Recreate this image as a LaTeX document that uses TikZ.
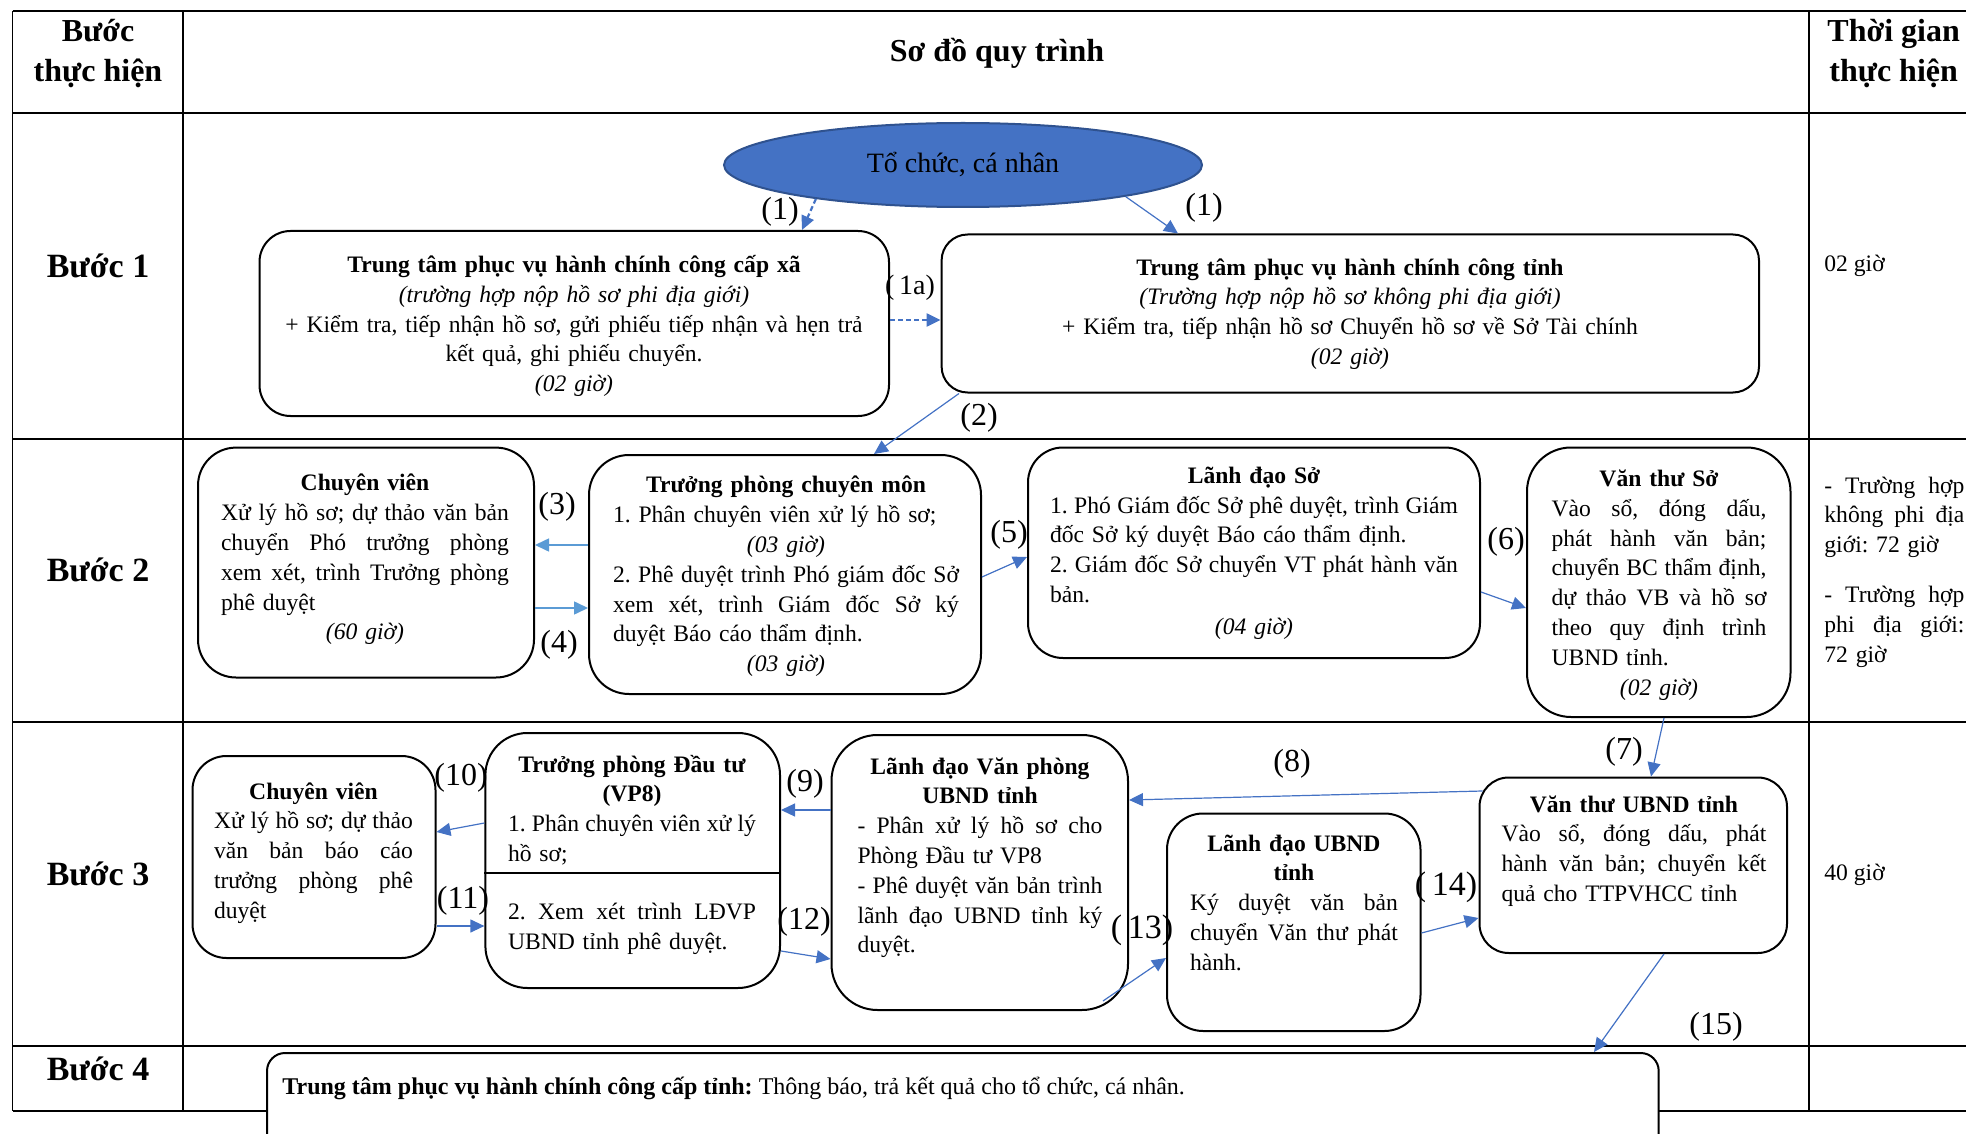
\documentclass[tikz,border=0pt]{standalone}
\usepackage{fontspec}
\setmainfont{Liberation Serif}
\usetikzlibrary{arrows.meta,shapes.geometric,fit}
\definecolor{arrblue}{HTML}{4472C4}
\definecolor{lblue}{HTML}{5B9BD5}
\definecolor{ellfill}{HTML}{4472C4}
\definecolor{elldraw}{HTML}{2F528F}
\frenchspacing
\newcommand\jline[1]{\leavevmode\hbox to \linewidth{\spaceskip=\fontdimen2\font plus 1fil\relax #1}}
\newcommand\lline[1]{\leavevmode\makebox[\linewidth][l]{#1}}
\begin{document}
\begin{tikzpicture}[x=0.5pt,y=-0.5pt,
  box/.style={draw=black, line width=1pt, fill=white, inner sep=0pt},
  txt/.style={inner sep=0pt, align=center, font=\fontsize{11.8}{14.9}\selectfont},
  head/.style={inner sep=0pt, align=center, font=\fontsize{16}{20}\selectfont\bfseries},
  stephead/.style={head, font=\fontsize{17}{20}\selectfont\bfseries},
  lbl/.style={inner sep=0pt, font=\fontsize{16}{18}\selectfont},
  arr/.style={draw=arrblue, line width=0.6pt, -{Triangle[length=7pt,width=6.5pt]}},
  larr/.style={arr, draw=lblue, line width=0.8pt},
  dsh/.style={arr, line width=1.1pt, dash pattern=on 2.5pt off 1.5pt},
  hl/.style={line width=1.2pt}, vl/.style={line width=0.9pt}]
\useasboundingbox (0,0) rectangle (1966,1134);
\clip (0,0) rectangle (1966,1134);

% table
\foreach \yy in {11,113,439,722,1046,1111} \draw[hl] (12.5,\yy) -- (1990,\yy);
\foreach \xx in {12.5,183,1809} \draw[vl] (\xx,11) -- (\xx,1111);

% headers
\node[head] (hStep) at (98,54) {Bước\\thực hiện};
\node[head] (hMap) at (997,53) {Sơ đồ quy trình};
\node[head, anchor=west] (hTime) at (1827,54) {Thời gian\\thực hiện};
\node[stephead] (s1) at (98,266) {Bước 1};
\node[stephead] (s2) at (98,570) {Bước 2};
\node[stephead] (s3) at (98,874) {Bước 3};
\node[stephead] (s4) at (98,1069) {Bước 4};

% time column
\node[txt, anchor=west] (tm1) at (1824,266) {02 giờ};
\node[txt, anchor=west, text width=70pt, align=left] (tm2) at (1824,572)
  {\jline{- Trường hợp}\\\jline{không phi địa}\\giới: 72 giờ\\[10pt]\jline{- Trường hợp}\\\jline{phi địa giới:}\\72 giờ};
\node[txt, anchor=west] (tm3) at (1824,875) {40 giờ};

% ellipse
\node[ellipse, draw=elldraw, fill=ellfill, line width=1pt, minimum width=239pt, minimum height=42pt, inner sep=0pt,
  font=\fontsize{14}{16}\selectfont] (ell) at (963,165) {Tổ chức, cá nhân};

% boxes
\node[box, rounded corners=15.5pt, fit={(259.5,231) (889,416)}] (boxA) {};
\node[box, rounded corners=13pt, fit={(941.6,234.5) (1759,392.5)}] (boxB) {};
\node[box, rounded corners=19pt, fit={(198,447.6) (534,677.5)}] (boxC) {};
\node[box, rounded corners=20pt, fit={(589,455) (981,694)}] (boxD) {};
\node[box, rounded corners=17.5pt, fit={(1028,447.5) (1480,658)}] (boxE) {};
\node[box, rounded corners=22pt, fit={(1527,447.5) (1790.5,717)}] (boxF) {};
\node[box, rounded corners=17pt, fit={(192.5,756) (435.5,958)}] (boxG) {};
\node[box, rounded corners=21pt, fit={(485.4,733) (780,988)}] (boxH) {};
\node[box, rounded corners=23pt, fit={(831.5,735) (1128,1010)}] (boxI) {};
\node[box, rounded corners=18pt, fit={(1167,813.5) (1420.5,1031)}] (boxJ) {};
\node[box, rounded corners=14.6pt, fit={(1479.5,777.5) (1787,953)}] (boxK) {};
\node[box, rounded corners=9pt, fit={(267,1053) (1658.7,1200)}] (boxL) {};
\draw[line width=0.6pt] (boxH.west |- 0,873) -- (boxH.east |- 0,873);

% box texts
\node[txt, text width=300pt] (tA) at (574,326) {\textbf{Trung tâm phục vụ hành chính công cấp xã}\\
  \textit{(trường hợp nộp hồ sơ phi địa giới)}\\
  + Kiểm tra, tiếp nhận hồ sơ, gửi phiếu tiếp nhận và hẹn trả\\
  kết quả, ghi phiếu chuyển.\\
  \textit{(02 giờ)}};
\node[txt, text width=360pt] (tB) at (1350,314) {\textbf{Trung tâm phục vụ hành chính công tỉnh}\\
  \textit{(Trường hợp nộp hồ sơ không phi địa giới)}\\
  + Kiểm tra, tiếp nhận hồ sơ Chuyển hồ sơ về Sở Tài chính\\
  \textit{(02 giờ)}};
\node[txt, text width=144pt] (tC) at (365,559.5) {\textbf{Chuyên viên}\\
  \jline{Xử lý hồ sơ; dự thảo văn bản}\\
  \jline{chuyển Phó trưởng phòng}\\
  \jline{xem xét, trình Trưởng phòng}\\
  \lline{phê duyệt}\\
  \textit{(60 giờ)}};
\node[txt, text width=173pt] (tD) at (786,576.5) {\textbf{Trưởng phòng chuyên môn}\\
  \lline{1. Phân chuyên viên xử lý hồ sơ;}\\
  \textit{(03 giờ)}\\
  \jline{2. Phê duyệt trình Phó giám đốc Sở}\\
  \jline{xem xét, trình Giám đốc Sở ký}\\
  \lline{duyệt Báo cáo thẩm định.}\\
  \textit{(03 giờ)}};
\node[txt, text width=204pt] (tE) at (1254,553) {\textbf{Lãnh đạo Sở}\\
  \jline{1. Phó Giám đốc Sở phê duyệt, trình Giám}\\
  \lline{đốc Sở ký duyệt Báo cáo thẩm định.}\\
  \jline{2. Giám đốc Sở chuyển VT phát hành văn}\\
  \lline{bản.}\\[1pt]
  \textit{(04 giờ)}};
\node[txt, text width=107.5pt] (tF) at (1659,585) {\textbf{Văn thư Sở}\\
  \jline{Vào sổ, đóng dấu,}\\
  \jline{phát hành văn bản;}\\
  \jline{chuyển BC thẩm định,}\\
  \jline{dự thảo VB và hồ sơ}\\
  \jline{theo quy định trình}\\
  \lline{UBND tỉnh.}\\
  \textit{(02 giờ)}};
\node[txt, text width=99.5pt] (tG) at (313.5,853) {\textbf{Chuyên viên}\\
  \jline{Xử lý hồ sơ; dự thảo}\\
  \jline{văn bản báo cáo}\\
  \jline{trưởng phòng phê}\\
  \lline{duyệt}};
\node[txt, text width=124pt] (tH1) at (632,810) {\textbf{Trưởng phòng Đầu tư}\\
  \textbf{(VP8)}\\
  \jline{1. Phân chuyên viên xử lý}\\
  \lline{hồ sơ;}};
\node[txt, text width=124pt] (tH2) at (632,929) {\jline{2. Xem xét trình LĐVP}\\
  \lline{UBND tỉnh phê duyệt.}};
\node[txt, text width=122.5pt] (tI) at (980,857.7) {\textbf{Lãnh đạo Văn phòng}\\
  \textbf{UBND tỉnh}\\
  \jline{- Phân xử lý hồ sơ cho}\\
  \lline{Phòng Đầu tư VP8}\\
  \jline{- Phê duyệt văn bản trình}\\
  \jline{lãnh đạo UBND tỉnh ký}\\
  \lline{duyệt.}};
\node[txt, text width=104pt] (tJ) at (1294,902.7) {\textbf{Lãnh đạo UBND}\\
  \textbf{tỉnh}\\
  \jline{Ký duyệt văn bản}\\
  \jline{chuyển Văn thư phát}\\
  \lline{hành.}};
\node[txt, text width=132.5pt] (tK) at (1634,851) {\textbf{Văn thư UBND tỉnh}\\
  \jline{Vào sổ, đóng dấu, phát}\\
  \jline{hành văn bản; chuyển kết}\\
  \lline{quả cho TTPVHCC tỉnh}};
\node[txt, anchor=west, font=\fontsize{12}{15}\selectfont] (tL) at (282,1088) {\textbf{Trung tâm phục vụ hành chính công cấp tỉnh:} Thông báo, trả kết quả cho tổ chức, cá nhân.};

% connectors
\draw[dsh] (ell.193) -- (boxA.north -| 802,0);
\draw[arr] (ell.349) -- (boxB.north -| 1178,0);
\draw[dsh] (boxA.east |- 0,320) -- (boxB.west |- 0,320);
\draw[arr] (boxB.south -| 959,0) -- (boxD.north -| 874,0);
\draw[larr] (boxD.west |- 0,545) -- (boxC.east |- 0,545);
\draw[larr] (boxC.east |- 0,608) -- (boxD.west |- 0,608);
\draw[arr] (boxD.east |- 0,577) -- (boxE.west |- 0,557);
\draw[arr] (boxE.east |- 0,592) -- (boxF.west |- 0,608);
\draw[arr] (boxF.south -| 1664,0) -- (boxK.north -| 1651,0);
\draw[arr] ([xshift=2pt]boxK.west |- 0,791) -- (boxI.east |- 0,800);
\draw[arr] (boxI.west |- 0,810) -- (boxH.east |- 0,810);
\draw[arr] (boxH.west |- 0,823) -- (boxG.east |- 0,832);
\draw[arr] (boxG.east |- 0,926) -- (boxH.west |- 0,926);
\draw[arr] (boxH.east |- 0,951) -- (boxI.west |- 0,959);
\draw[arr] ([shift={(-26,-10)}]boxI.south east) -- (boxJ.west |- 0,958);
\draw[arr] (boxJ.east |- 0,933) -- (boxK.west |- 0,918);
\draw[arr] (boxK.south -| 1664,0) -- (boxL.north -| 1594,0);

% labels
\node[lbl] (l1a) at (780,212) {(1)};
\node[lbl] (l1b) at (1204,208) {(1)};
\node[lbl, font=\fontsize{14}{16}\selectfont] (l1c) at (910,288) {(\,1a)};
\node[lbl] (l2) at (979,418) {(2)};
\node[lbl] (l3) at (557,507) {(3)};
\node[lbl] (l4) at (559,645) {(4)};
\node[lbl] (l5) at (1009,535) {(5)};
\node[lbl] (l6) at (1506,542) {(6)};
\node[lbl] (l7) at (1624,752) {(7)};
\node[lbl] (l8) at (1292,764) {(8)};
\node[lbl] (l9) at (805,784) {(9)};
\node[lbl] (l10) at (461,778) {(10)};
\node[lbl] (l11) at (463,901) {(11)};
\node[lbl] (l12) at (804,922) {(12)};
\node[lbl, font=\fontsize{17}{19}\selectfont] (l13) at (1142,930) {(\,13)};
\node[lbl, font=\fontsize{17}{19}\selectfont] (l14) at (1446,887) {(\,14)};
\node[lbl] (l15) at (1716,1027) {(15)};
\end{tikzpicture}
\end{document}
